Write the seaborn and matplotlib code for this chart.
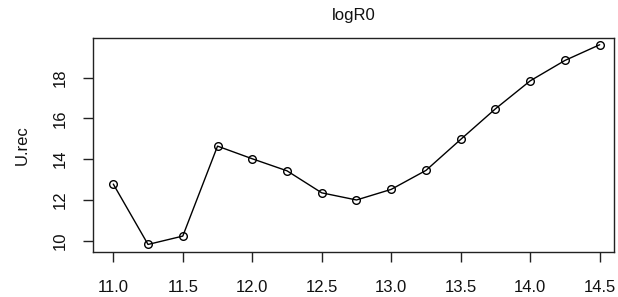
import seaborn as sns
import matplotlib.pyplot as plt
import pandas as pd

sns.set_style("ticks")
plt.rcParams['font.family'] = ['Liberation Sans', 'DejaVu Sans']

# values
log_r0 = [11.0, 11.25, 11.5, 11.75, 12.0, 12.25, 12.5, 12.75,
          13.0, 13.25, 13.5, 13.75, 14.0, 14.25, 14.5]
u_rec = [12.78, 9.82, 10.23, 14.64, 14.02, 13.43, 12.35, 12.0,
         12.52, 13.45, 14.97, 16.47, 17.84, 18.84, 19.61]
x_ticks = [11.0, 11.5, 12.0, 12.5, 13.0, 13.5, 14.0, 14.5]
y_ticks = [10, 12, 14, 16, 18]

data = pd.DataFrame({"logR0": log_r0, "U.rec": u_rec})

fig = plt.figure(figsize=(6.18, 2.97), dpi=100)
ax = fig.add_axes([93 / 618, 1 - 252 / 297, 521 / 618, 214 / 297])

sns.lineplot(data=data, x="logR0", y="U.rec", ax=ax, color="black",
             linewidth=1, marker="o", markersize=5.5, markerfacecolor="none",
             markeredgecolor="black", markeredgewidth=1)

ax.set_xlim(10.854, 14.603)
ax.set_ylim(9.45, 19.94)
ax.set_xticks(x_ticks)
ax.set_xticklabels([f"{t:.1f}" for t in x_ticks])
ax.set_yticks(y_ticks)
ax.set_yticklabels([str(t) for t in y_ticks], rotation=90, va="center")

for s in ax.spines.values():
    s.set_color("#222222")
    s.set_linewidth(1)
ax.tick_params(axis="both", direction="out", length=7, width=1,
               colors="#222222", labelsize=12, labelcolor="#111111")
ax.tick_params(axis="x", pad=13)
ax.tick_params(axis="y", pad=11)

ax.set_title("logR0", fontsize=12, pad=13, color="#111111")
ax.set_xlabel("")
ax.set_ylabel("U.rec", fontsize=12, labelpad=17, color="#111111")

plt.savefig("out.png", dpi=100)
plt.close()
